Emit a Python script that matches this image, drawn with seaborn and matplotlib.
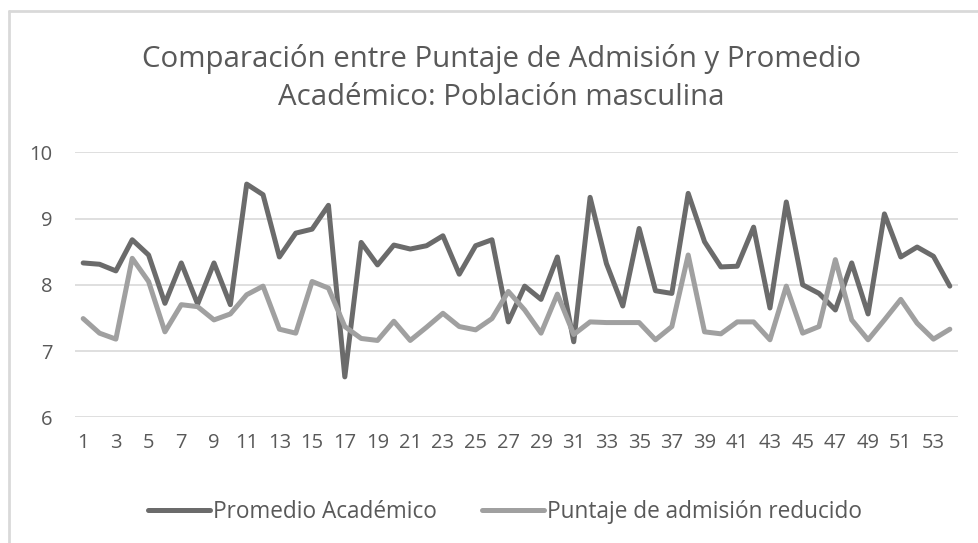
import numpy as np
import pandas as pd
import matplotlib
matplotlib.use('Agg')
import matplotlib.pyplot as plt
from matplotlib.lines import Line2D
import seaborn as sns

# Datos (54 estudiantes)
estudiantes = list(range(1, 55))
promedio_academico = [
    8.33, 8.31, 8.21, 8.68, 8.45, 7.72, 8.33, 7.71, 8.33, 7.70,
    9.52, 9.36, 8.42, 8.78, 8.84, 9.20, 6.61, 8.64, 8.30, 8.60,
    8.54, 8.59, 8.74, 8.16, 8.59, 8.68, 7.44, 7.98, 7.78, 8.42,
    7.14, 9.32, 8.32, 7.68, 8.85, 7.91, 7.87, 9.38, 8.65, 8.27,
    8.28, 8.87, 7.65, 9.25, 8.00, 7.87, 7.62, 8.33, 7.56, 9.07,
    8.42, 8.57, 8.43, 7.98,
]
puntaje_reducido = [
    7.49, 7.27, 7.18, 8.40, 8.05, 7.29, 7.70, 7.67, 7.47, 7.56,
    7.85, 7.98, 7.33, 7.27, 8.05, 7.95, 7.37, 7.19, 7.16, 7.45,
    7.16, 7.36, 7.57, 7.37, 7.32, 7.49, 7.90, 7.62, 7.27, 7.86,
    7.25, 7.44, 7.43, 7.43, 7.43, 7.17, 7.37, 8.45, 7.29, 7.26,
    7.44, 7.44, 7.17, 7.98, 7.27, 7.37, 8.38, 7.47, 7.17, 7.47,
    7.78, 7.42, 7.18, 7.33,
]
series = ['Promedio Académico', 'Puntaje de admisión reducido']
colores = ['#6b6b6b', '#a0a0a0']
y_ticks = [6, 7, 8, 9, 10]
titulo = 'Comparación entre Puntaje de Admisión y Promedio\nAcadémico: Población masculina'

df = pd.DataFrame({
    'Estudiante': estudiantes * 2,
    'Valor': promedio_academico + puntaje_reducido,
    'Serie': [series[0]] * len(estudiantes) + [series[1]] * len(estudiantes),
})

sns.set_style('white')
plt.rcParams['font.family'] = ['Open Sans', 'DejaVu Sans']
texto = '#595959'

fig = plt.figure(figsize=(9.79, 5.43), dpi=100)
ax = fig.add_axes([75 / 979, 1 - 417.3 / 543, (958 - 75) / 979, (417.3 - 152.3) / 543])

sns.lineplot(data=df, x='Estudiante', y='Valor', hue='Serie', palette=colores,
             linewidth=3.6, ax=ax, legend=False)

ax.set_xlim(0.5, 54.5)
ax.set_ylim(6, 10)
ax.set_yticks(y_ticks)
ax.set_yticklabels([str(v) for v in y_ticks])
ax.set_xticks(estudiantes[::2])
ax.set_xticklabels([str(v) for v in estudiantes[::2]])
ax.set_xlabel('')
ax.set_ylabel('')
for s in ax.spines.values():
    s.set_visible(False)
ax.grid(axis='y', color='#d9d9d9', linewidth=1.2)
ax.set_axisbelow(True)
ax.tick_params(axis='both', length=0, colors=texto, labelsize=14.5)
ax.tick_params(axis='y', pad=16)
ax.tick_params(axis='x', pad=11)

fig.text(0.512, 1 - 78 / 543, titulo, ha='center', va='center',
         fontsize=21.2, color=texto, linespacing=1.42)

handles = [Line2D([0], [0], color=c, linewidth=3.6) for c in colores]
fig.legend(handles, series, loc='center', bbox_to_anchor=(0.516, 1 - 512 / 543),
           ncol=2, frameon=False, fontsize=16.3, labelcolor=texto,
           handlelength=2.75, handletextpad=0.12, columnspacing=2.0)

# marco del gráfico
fig.add_artist(Line2D([9 / 979, 1], [1 - 11 / 543] * 2, color='#d9d9d9', linewidth=2))
fig.add_artist(Line2D([9 / 979] * 2, [0, 1 - 11 / 543], color='#d9d9d9', linewidth=2))

fig.savefig('out.png', dpi=100)
